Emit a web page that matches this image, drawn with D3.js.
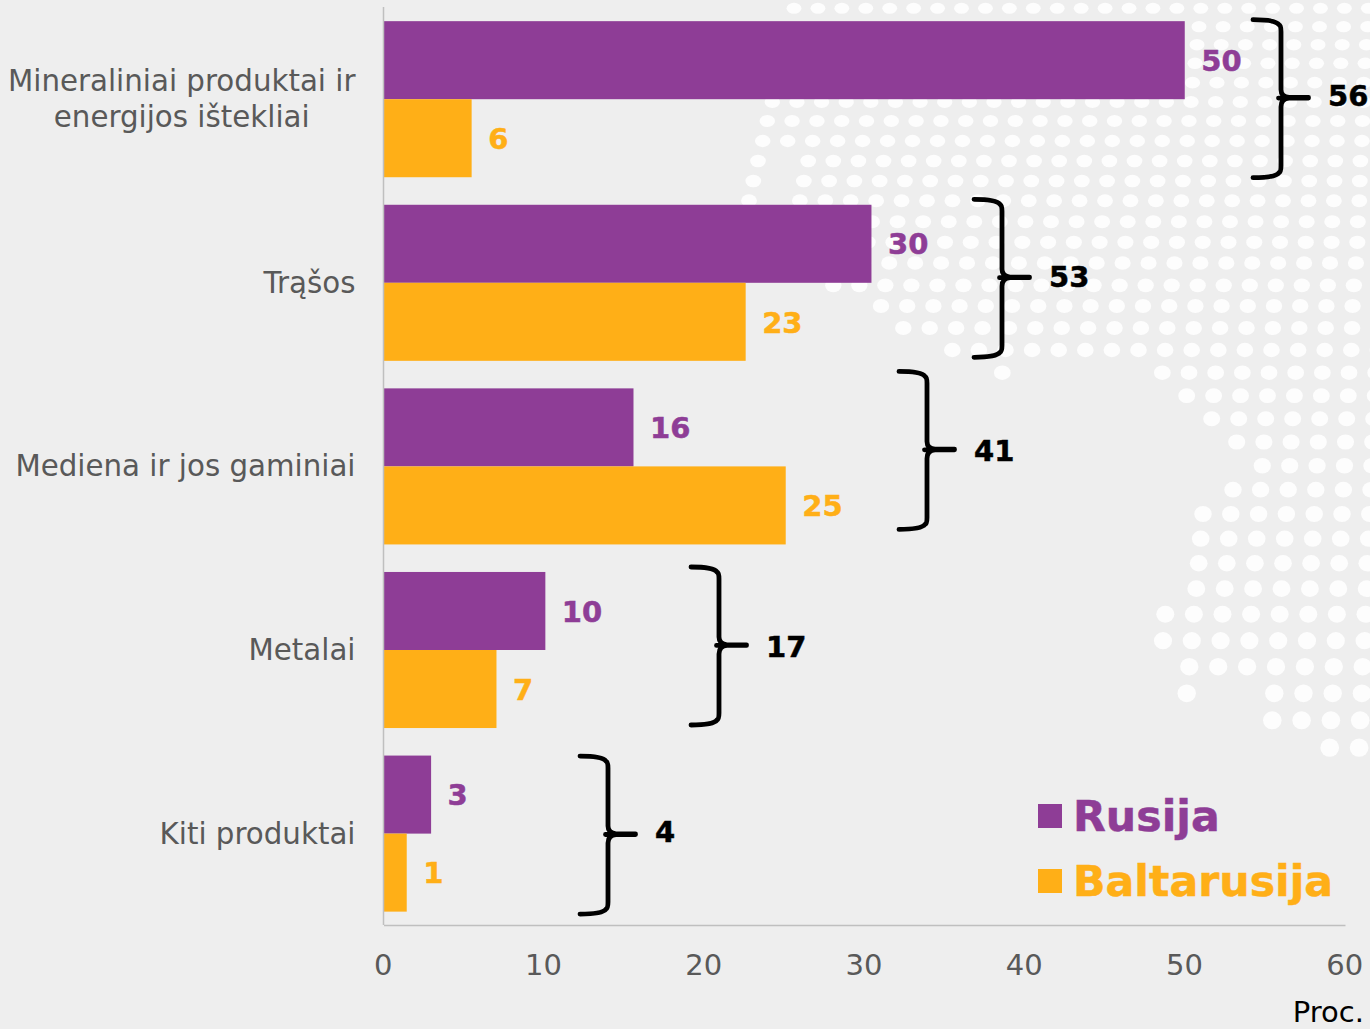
<!DOCTYPE html>
<html lang="lt">
<head>
<meta charset="utf-8">
<title>Rusija ir Baltarusija</title>
<script src="https://cdn.jsdelivr.net/npm/d3@7"></script>
<style>
  html, body { margin: 0; padding: 0; background: #eeeeee; }
  svg { display: block; font-family: "DejaVu Sans", sans-serif; }
</style>
</head>
<body>
<svg id="chart" width="1370" height="1029"></svg>
<script>
// Chart values, percent
const categories = [
  ["Mineraliniai produktai ir", "energijos ištekliai"],
  ["Trąšos"],
  ["Mediena ir jos gaminiai"],
  ["Metalai"],
  ["Kiti produktai"]
];
const seriesNames = ["Rusija", "Baltarusija"];
const rusija = [50.0, 30.45, 15.6, 10.1, 2.97];
const baltarusija = [5.5, 22.6, 25.1, 7.05, 1.45];
const xTicks = [0, 10, 20, 30, 40, 50, 60];
const unitLabel = "Proc.";

// Palette
const colours = ["#8e3d96", "#ffaf17"];
const background = "#eeeeee";
const axisColour = "#bfbfbf";
const labelColour = "#595959";

// Brace placement per category: left edge in px, vertical shift from the band centre,
// and the nudge applied to each total beside its brace
const braceLeft = [1253, 974, 899, 691, 580];
const braceShift = [-0.5, -4.5, -16, -4, 1.5];
const totalShift = [-2, -1, 1, 1, -3];

// Dotted world-map backdrop, one row each: y, first dot x, step, columns left out
const mapRows = [
  [8.3, 794, 23.93, []],
  [26.7, 1199, 24.1, []],
  [44.7, 1197, 24.2, []],
  [63.3, 1195, 24.3, []],
  [82.7, 1192.5, 24.45, []],
  [102, 772.3, 24.63, []],
  [121, 767.3, 24.8, []],
  [141, 762.7, 24.97, []],
  [161, 758, 25.1, [1]],
  [181, 753.3, 25.27, [1]],
  [200.7, 749, 25.43, [1]],
  [221.7, 872, 25.57, []],
  [242.3, 867.7, 25.77, []],
  [263, 863.3, 25.93, []],
  [285.3, 833.3, 26.03, []],
  [306, 881, 26.2, []],
  [328, 903.3, 26.4, []],
  [350, 952.3, 26.6, []],
  [372.7, 1002.3, 26.67, [1, 2, 3, 4, 5]],
  [395.7, 1186.7, 26.93, []],
  [418.7, 1211.7, 27, []],
  [442, 1236.7, 27.2, []],
  [465.7, 1262.3, 27.4, []],
  [489.7, 1233, 27.6, []],
  [514, 1203, 27.8, []],
  [538.7, 1200.7, 28, []],
  [563.3, 1198.7, 28.1, []],
  [588.7, 1196.3, 28.4, []],
  [614.3, 1165.3, 28.6, []],
  [640.7, 1163, 28.8, []],
  [666.7, 1189.3, 28.9, []],
  [693.3, 1186.7, 29.2, [1, 2]],
  [720.3, 1272.3, 29.3, []],
  [747.7, 1329.7, 29.4, []]
];

const width = 1370;
const svg = d3.select("#chart");

svg.append("rect").attr("width", width).attr("height", 1029).attr("fill", background);

// Backdrop dots flatten towards the top of the map
const dots = mapRows.flatMap(([y, x0, step, gaps]) =>
  d3.range(0, Math.ceil((width + 12 - x0) / step))
    .filter(i => !gaps.includes(i))
    .map(i => ({ x: x0 + i * step, y }))
);
svg.append("g").selectAll("ellipse").data(dots).join("ellipse")
  .attr("cx", d => d.x)
  .attr("cy", d => d.y)
  .attr("rx", d => 7.4 + 0.0026 * d.y)
  .attr("ry", d => 5.5 + 0.0048 * d.y)
  .attr("fill", "#fdfdfd");

// Scales
const x = d3.scaleLinear().domain([0, 60]).range([383.5, 1345]);
const y = d3.scaleBand().domain(d3.range(categories.length)).range([7.4, 925.4]).paddingInner(0.15).paddingOuter(0.075);
const ySub = d3.scaleBand().domain(d3.range(seriesNames.length)).range([0, y.bandwidth()]);

// Bars and their rounded value labels
[rusija, baltarusija].forEach((values, s) => {
  const g = svg.append("g");
  g.selectAll("rect").data(values).join("rect")
    .attr("x", x(0))
    .attr("y", (d, i) => y(i) + ySub(s))
    .attr("width", d => x(d) - x(0))
    .attr("height", ySub.bandwidth())
    .attr("fill", colours[s]);
  g.selectAll("text").data(values).join("text")
    .attr("x", d => x(d) + 16.5)
    .attr("y", (d, i) => y(i) + ySub(s) + ySub.bandwidth() / 2 + 10.7)
    .attr("fill", colours[s])
    .attr("stroke", colours[s])
    .attr("stroke-width", 0.5)
    .attr("font-size", 29)
    .attr("font-weight", "bold")
    .text(d => Math.round(d));
});

// Axes
const xAxis = d3.axisBottom(x).tickValues(xTicks).tickSize(0).tickPadding(0);
const axisG = svg.append("g").attr("transform", "translate(0,925)").call(xAxis);
axisG.select(".domain").attr("stroke", axisColour).attr("stroke-width", 1.5);
axisG.selectAll("text")
  .attr("x", -0.7)
  .attr("y", 50).attr("dy", null)
  .attr("font-size", 29)
  .attr("font-family", "DejaVu Sans")
  .attr("fill", labelColour);
svg.append("line")
  .attr("x1", x(0)).attr("x2", x(0)).attr("y1", 7).attr("y2", 925)
  .attr("stroke", axisColour).attr("stroke-width", 1.5);

// Category labels, right-aligned to the axis with multi-line labels centred as a block
const catLabels = svg.append("g").attr("fill", labelColour).attr("font-size", 29.3);
categories.forEach((lines, i) => {
  const cy = y(i) + y.bandwidth() / 2;
  const t = catLabels.append("text").attr("text-anchor", "middle");
  const spans = lines.map((line, k) => t.append("tspan")
    .attr("y", cy + 10 + (k - (lines.length - 1) / 2) * 35.5)
    .text(line));
  const widest = d3.max(spans, s => s.node().getComputedTextLength());
  spans.forEach(s => s.attr("x", 355.5 - widest / 2));
});

// Braces summing both countries: two arms meeting at a pointed nose
const bracePath = (h) => {
  const m = h / 2;
  return `M0,${-m} C12,${-m} 23,${-m + 1} 26,${-m + 5}` +
    `Q28,${-m + 6} 28,${-m + 12}L28,-9Q28,-2 36,-1.2L55.5,-1.2` +
    `M25.5,-0.6L36,-0.6` +
    `M55.5,-0.6L36,-0.6Q28,0 28,8L28,${m - 12}Q28,${m - 6} 26,${m - 5}C23,${m - 1} 12,${m} 0,${m}`;
};
const braces = svg.append("g");
categories.forEach((_, i) => {
  const cy = y(i) + y.bandwidth() / 2 + braceShift[i];
  const g = braces.append("g").attr("transform", `translate(${braceLeft[i]},${cy})`);
  g.append("path")
    .attr("d", bracePath(158))
    .attr("fill", "none")
    .attr("stroke", "#000")
    .attr("stroke-width", 4.8)
    .attr("stroke-linecap", "round");
  g.append("text")
    .attr("x", 75)
    .attr("y", 9.5 + totalShift[i])
    .attr("font-size", 29)
    .attr("font-weight", "bold")
    .attr("fill", "#000")
    .attr("stroke", "#000")
    .attr("stroke-width", 0.5)
    .text(Math.round(rusija[i] + baltarusija[i]));
});

// Legend
const legend = svg.append("g");
seriesNames.forEach((name, s) => {
  legend.append("rect")
    .attr("x", 1038).attr("y", 804 + s * 65)
    .attr("width", 24).attr("height", 24)
    .attr("fill", colours[s]);
  legend.append("text")
    .attr("x", 1073).attr("y", 831 + s * 65)
    .attr("font-size", 42.7)
    .attr("font-weight", "bold")
    .attr("fill", colours[s])
    .attr("stroke", colours[s])
    .attr("stroke-width", 0.5)
    .text(name);
});

// Unit note
svg.append("text")
  .attr("x", 1364).attr("y", 1022)
  .attr("text-anchor", "end")
  .attr("font-size", 29)
  .attr("fill", "#000")
  .text(unitLabel);
</script>
</body>
</html>
